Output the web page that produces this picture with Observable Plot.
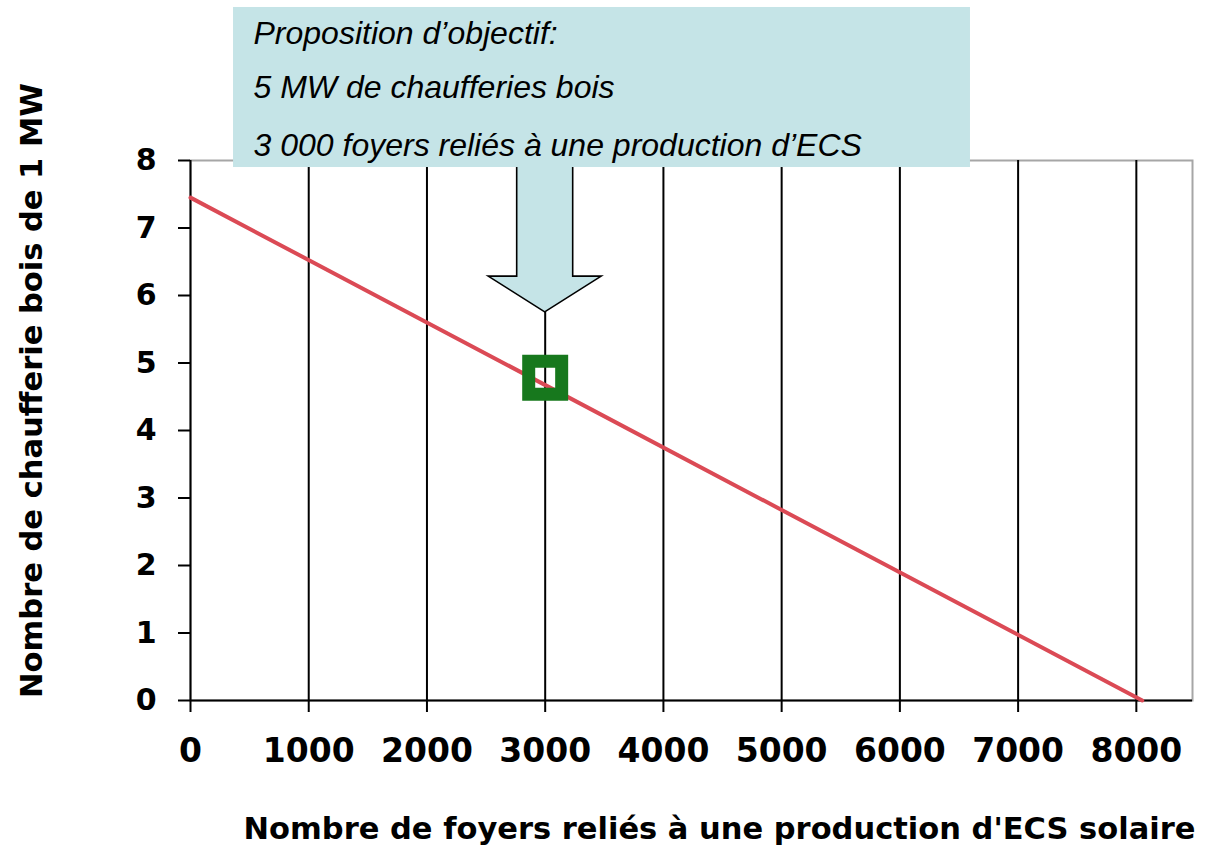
<!DOCTYPE html>
<html>
<head>
<meta charset="utf-8">
<script src="https://cdn.jsdelivr.net/npm/d3@7"></script>
<script src="https://cdn.jsdelivr.net/npm/@observablehq/plot@0.6"></script>
<style>
  html, body { margin: 0; padding: 0; background: #ffffff; }
  #chart { width: 1216px; height: 849px; }
</style>
</head>
<body>
<div id="chart"></div>
<script>
// ---- Data ----
const xTicks = [0, 1000, 2000, 3000, 4000, 5000, 6000, 7000, 8000];
const yTicks = [0, 1, 2, 3, 4, 5, 6, 7, 8];
const lineX = [0, 8050];          // foyers reliés
const lineY = [7.45, 0];          // chaufferies bois de 1 MW
const targetX = [3000];           // objectif proposé
const targetY = [4.78];
const calloutLines = [
  "Proposition d’objectif:",
  "5 MW de chaufferies bois",
  "3 000 foyers reliés à une production d’ECS"
];
const xTitle = "Nombre de foyers reliés à une production d'ECS solaire";
const yTitle = "Nombre de chaufferie bois de 1 MW";

// ---- Annotation placement (data units) ----
const boxX1 = 364, boxX2 = 6597, boxY1 = 7.896, boxY2 = 10.267;
const textX = 533;
const textY = [9.733, 8.919, 8.074];
const arrowTop = 7.96, arrowHeadBase = 6.28, arrowTip = 5.75;

const lineData = lineX.map((x, i) => ({x, y: lineY[i]}));
const targetData = targetX.map((x, i) => ({x, y: targetY[i]}));

function arrowMark(index, scales) {
  const cx = scales.x(targetX[0]);
  const yt = scales.y(arrowTop), yb = scales.y(arrowHeadBase), ytip = scales.y(arrowTip);
  const sw = 28, hw = 56.5;
  const pts = [[cx - sw, yt], [cx - sw, yb], [cx - hw, yb], [cx, ytip], [cx + hw, yb], [cx + sw, yb], [cx + sw, yt]];
  const g = d3.create("svg:g");
  g.append("path")
    .attr("d", "M" + pts.map(p => p.join(",")).join("L") + "Z")
    .attr("fill", "#c5e4e7")
    .attr("stroke", "#000")
    .attr("stroke-width", 1.6)
    .attr("stroke-linejoin", "miter");
  return g.node();
}

const chart = Plot.plot({
  width: 1216,
  height: 849,
  marginLeft: 190,
  marginRight: 24,
  marginTop: 160,
  marginBottom: 149,
  x: {domain: [0, 8475]},
  y: {domain: [0, 8]},
  style: {fontFamily: "DejaVu Sans", background: "#ffffff", color: "#000000"},
  marks: [
    Plot.frame({stroke: "#a6a6a6", strokeWidth: 2}),
    Plot.ruleX(xTicks.slice(1), {stroke: "#000", strokeWidth: 2}),
    Plot.ruleX([0], {stroke: "#000", strokeWidth: 2}),
    Plot.ruleY([0], {stroke: "#000", strokeWidth: 2}),
    Plot.line(lineData, {x: "x", y: "y", stroke: "#db4a55", strokeWidth: 4}),
    Plot.dot(targetData, {x: "x", y: "y", symbol: "square", r: 18.6, stroke: "#17781d", strokeWidth: 13, fill: "none"}),
    Plot.axisX(xTicks, {tickSize: 12, tickPadding: 26, fontSize: 33, fontWeight: "bold", strokeWidth: 2, label: null, tickFormat: d => `${d}`}),
    Plot.axisY(yTicks, {tickSize: 12, tickPadding: 22, fontSize: 30, fontWeight: "bold", strokeWidth: 2, label: null, tickFormat: d => `${d}`}),
    arrowMark,
    Plot.rect([0], {x1: boxX1, x2: boxX2, y1: boxY1, y2: boxY2, fill: "#c5e4e7"}),
    Plot.text(calloutLines, {x: textX, y: (d, i) => textY[i], text: d => d, textAnchor: "start", lineAnchor: "bottom", fontSize: 32, fontStyle: "italic", fontFamily: "Liberation Sans", fill: "#000"}),
    Plot.text([xTitle], {text: d => d, frameAnchor: "bottom", textAnchor: "middle", dx: 28, dy: 138, lineAnchor: "bottom", fontSize: 30.5, fontWeight: "bold", fill: "#000"}),
    Plot.text([yTitle], {text: d => d, frameAnchor: "left", textAnchor: "middle", lineAnchor: "middle", rotate: -90, dx: -158, dy: -40, fontSize: 30.5, fontWeight: "bold", fill: "#000"})
  ]
});
document.getElementById("chart").appendChild(chart);
</script>
</body>
</html>
